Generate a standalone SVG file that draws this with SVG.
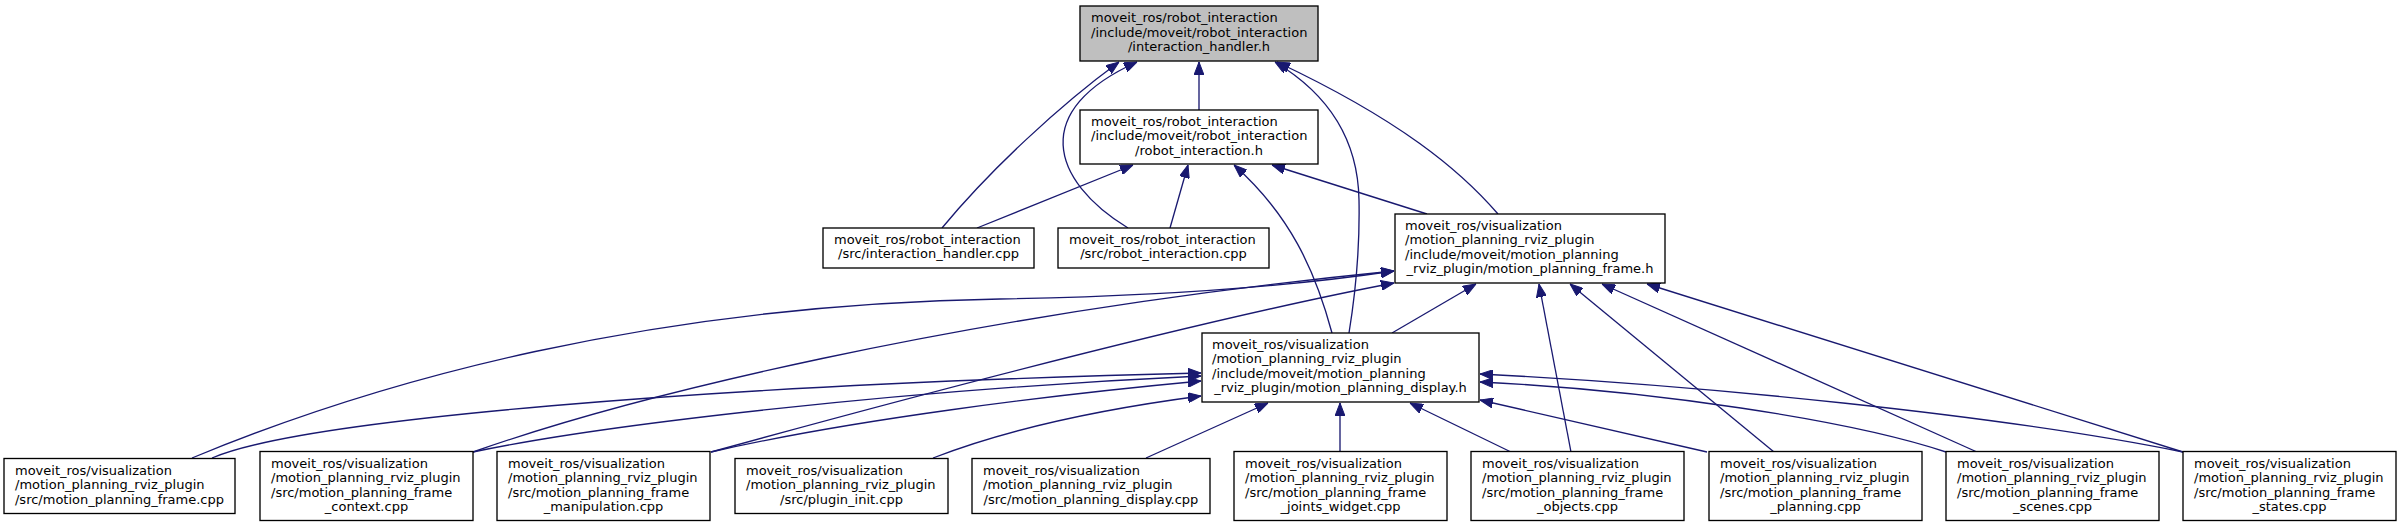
<svg xmlns="http://www.w3.org/2000/svg" width="2402" height="527" viewBox="0 0 2402 527">
<style>
.n rect{fill:#ffffff;stroke:#000000;stroke-width:1.33}
.n.hl rect{fill:#bfbfbf}
.n text{font-family:"DejaVu Sans",sans-serif;font-size:13px;fill:#000000}
.n text.c{text-anchor:middle}
#edges path{fill:none;stroke:#191970;stroke-width:1.33;marker-end:url(#ah)}
</style>
<defs>
<marker id="ah" viewBox="0 0 13 10" refX="13" refY="5" markerWidth="13" markerHeight="10" markerUnits="userSpaceOnUse" orient="auto">
<path d="M0,0 L13,5 L0,10 z" fill="#191970" stroke="#191970" stroke-width="1"/>
</marker>
</defs>
<rect width="2402" height="527" fill="#ffffff"/>
<g id="edges">
<path d="M1199,110 L1199,62"/>
<path d="M942,228 C990,170 1060,105 1119,62"/>
<path d="M1128,228 C1050,180 1030,110 1137,62"/>
<path d="M1498,214 C1460,170 1400,120 1277,62"/>
<path d="M1349,333 C1356,290 1360,250 1359,200 C1358,140 1330,95 1275,62"/>
<path d="M977,228 L1133,165"/>
<path d="M1170,228 L1188,165"/>
<path d="M1332,333 C1315,270 1290,215 1234,165"/>
<path d="M1427,214 L1272,165"/>
<path d="M1392,333 L1476,284"/>
<path d="M192,458 C380,380 650,305 1000,299 C1180,296 1300,285 1394,271"/>
<path d="M473,452 C620,400 950,315 1394,271"/>
<path d="M711,452 C900,400 1200,320 1394,283"/>
<path d="M1571,452 L1539,284"/>
<path d="M1774,452 L1570,284"/>
<path d="M1977,452 L1602,284"/>
<path d="M2183,452 L1647,284"/>
<path d="M212,458 C300,420 700,385 1201,373"/>
<path d="M473,452 C600,425 900,390 1201,376"/>
<path d="M711,452 C850,420 1050,395 1201,381"/>
<path d="M933,458 C1010,428 1110,408 1201,396"/>
<path d="M1146,458 L1268,403"/>
<path d="M1340,452 L1340,403"/>
<path d="M1511,452 L1410,403"/>
<path d="M1707,452 L1480,400"/>
<path d="M1946,452 C1850,420 1650,390 1480,382"/>
<path d="M2183,452 C2000,415 1700,385 1480,374"/>
</g>
<g id="node_interaction_handler_h" class="n hl">
<rect x="1080" y="6" width="238" height="55"/>
<text x="1091" y="22">moveit_ros/robot_interaction</text>
<text x="1091" y="36.5">/include/moveit/robot_interaction</text>
<text class="c" x="1199" y="51">/interaction_handler.h</text>
</g>
<g id="node_robot_interaction_h" class="n">
<rect x="1080" y="110" width="238" height="54"/>
<text x="1091" y="125.5">moveit_ros/robot_interaction</text>
<text x="1091" y="140">/include/moveit/robot_interaction</text>
<text class="c" x="1199" y="154.5">/robot_interaction.h</text>
</g>
<g id="node_interaction_handler_cpp" class="n">
<rect x="823" y="228" width="211" height="40"/>
<text x="834" y="243.75">moveit_ros/robot_interaction</text>
<text class="c" x="928.5" y="258.25">/src/interaction_handler.cpp</text>
</g>
<g id="node_robot_interaction_cpp" class="n">
<rect x="1058" y="228" width="211" height="40"/>
<text x="1069" y="243.75">moveit_ros/robot_interaction</text>
<text class="c" x="1163.5" y="258.25">/src/robot_interaction.cpp</text>
</g>
<g id="node_motion_planning_frame_h" class="n">
<rect x="1395" y="214" width="270" height="69"/>
<text x="1405" y="229.75">moveit_ros/visualization</text>
<text x="1405" y="244.25">/motion_planning_rviz_plugin</text>
<text x="1405" y="258.75">/include/moveit/motion_planning</text>
<text class="c" x="1530" y="273.25">_rviz_plugin/motion_planning_frame.h</text>
</g>
<g id="node_motion_planning_display_h" class="n">
<rect x="1202" y="333" width="277" height="69"/>
<text x="1212" y="348.75">moveit_ros/visualization</text>
<text x="1212" y="363.25">/motion_planning_rviz_plugin</text>
<text x="1212" y="377.75">/include/moveit/motion_planning</text>
<text class="c" x="1340.5" y="392.25">_rviz_plugin/motion_planning_display.h</text>
</g>
<g id="node_frame_cpp" class="n">
<rect x="4" y="458.5" width="231" height="55"/>
<text x="15" y="474.5">moveit_ros/visualization</text>
<text x="15" y="489">/motion_planning_rviz_plugin</text>
<text class="c" x="119.5" y="503.5">/src/motion_planning_frame.cpp</text>
</g>
<g id="node_frame_context_cpp" class="n">
<rect x="260" y="451.5" width="213" height="69"/>
<text x="271" y="467.75">moveit_ros/visualization</text>
<text x="271" y="482.25">/motion_planning_rviz_plugin</text>
<text x="271" y="496.75">/src/motion_planning_frame</text>
<text class="c" x="366.5" y="511.25">_context.cpp</text>
</g>
<g id="node_frame_manipulation_cpp" class="n">
<rect x="497" y="451.5" width="213" height="69"/>
<text x="508" y="467.75">moveit_ros/visualization</text>
<text x="508" y="482.25">/motion_planning_rviz_plugin</text>
<text x="508" y="496.75">/src/motion_planning_frame</text>
<text class="c" x="603.5" y="511.25">_manipulation.cpp</text>
</g>
<g id="node_plugin_init_cpp" class="n">
<rect x="735" y="458.5" width="213" height="55"/>
<text x="746" y="474.5">moveit_ros/visualization</text>
<text x="746" y="489">/motion_planning_rviz_plugin</text>
<text class="c" x="841.5" y="503.5">/src/plugin_init.cpp</text>
</g>
<g id="node_display_cpp" class="n">
<rect x="972" y="458.5" width="238" height="55"/>
<text x="983" y="474.5">moveit_ros/visualization</text>
<text x="983" y="489">/motion_planning_rviz_plugin</text>
<text class="c" x="1091" y="503.5">/src/motion_planning_display.cpp</text>
</g>
<g id="node_frame_joints_widget_cpp" class="n">
<rect x="1234" y="451.5" width="213" height="69"/>
<text x="1245" y="467.75">moveit_ros/visualization</text>
<text x="1245" y="482.25">/motion_planning_rviz_plugin</text>
<text x="1245" y="496.75">/src/motion_planning_frame</text>
<text class="c" x="1340.5" y="511.25">_joints_widget.cpp</text>
</g>
<g id="node_frame_objects_cpp" class="n">
<rect x="1471" y="451.5" width="213" height="69"/>
<text x="1482" y="467.75">moveit_ros/visualization</text>
<text x="1482" y="482.25">/motion_planning_rviz_plugin</text>
<text x="1482" y="496.75">/src/motion_planning_frame</text>
<text class="c" x="1577.5" y="511.25">_objects.cpp</text>
</g>
<g id="node_frame_planning_cpp" class="n">
<rect x="1709" y="451.5" width="213" height="69"/>
<text x="1720" y="467.75">moveit_ros/visualization</text>
<text x="1720" y="482.25">/motion_planning_rviz_plugin</text>
<text x="1720" y="496.75">/src/motion_planning_frame</text>
<text class="c" x="1815.5" y="511.25">_planning.cpp</text>
</g>
<g id="node_frame_scenes_cpp" class="n">
<rect x="1946" y="451.5" width="213" height="69"/>
<text x="1957" y="467.75">moveit_ros/visualization</text>
<text x="1957" y="482.25">/motion_planning_rviz_plugin</text>
<text x="1957" y="496.75">/src/motion_planning_frame</text>
<text class="c" x="2052.5" y="511.25">_scenes.cpp</text>
</g>
<g id="node_frame_states_cpp" class="n">
<rect x="2183" y="451.5" width="213" height="69"/>
<text x="2194" y="467.75">moveit_ros/visualization</text>
<text x="2194" y="482.25">/motion_planning_rviz_plugin</text>
<text x="2194" y="496.75">/src/motion_planning_frame</text>
<text class="c" x="2289.5" y="511.25">_states.cpp</text>
</g>
</svg>
